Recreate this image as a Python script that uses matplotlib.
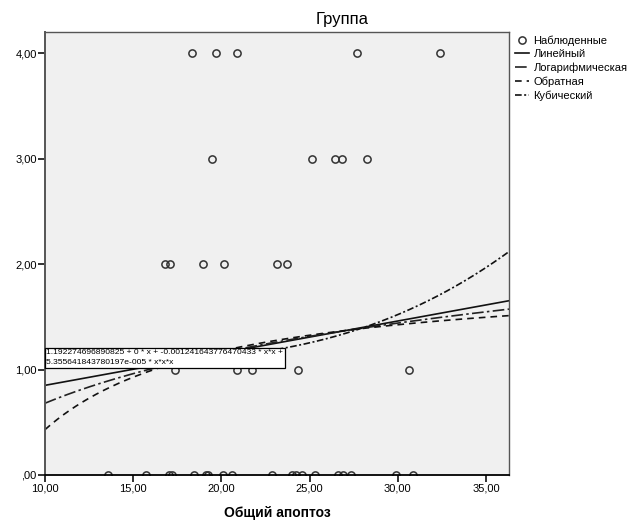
import matplotlib
matplotlib.use("Agg")
import matplotlib.pyplot as plt
import numpy as np

plt.rcParams['font.family'] = ['Liberation Sans', 'DejaVu Sans']

# observed points (Общий апоптоз, Группа)
x0 = [13.57, 15.72, 17.05, 17.2, 18.43, 19.1, 19.25, 20.07, 20.58, 22.85,
      23.98, 24.2, 24.54, 25.28, 26.58, 26.87, 27.37, 29.92, 30.88]
x1 = [17.36, 20.87, 21.72, 24.32, 30.66]
x2 = [16.79, 17.07, 18.94, 20.13, 23.13, 23.70]
x3 = [19.45, 25.11, 26.41, 26.81, 28.28]
x4 = [18.32, 19.68, 20.87, 27.66, 32.41]
groups = [0, 1, 2, 3, 4]

# model coefficients
lin_b = [0.545, 0.0305]
log_b = [-0.913, 0.692]
inv_b = [1.922, -14.92]
cub_b = [1.192274696890825, 0.0, -0.001241643776470433, 5.355641843780197e-05]
eq_text = ("1.192274696890825 + 0 * x + -0.001241643776470433 * x*x +\n"
           "5.355641843780197e-005 * x*x*x")

xticks = [10, 15, 20, 25, 30, 35]
xtick_labels = ["10,00", "15,00", "20,00", "25,00", "30,00", "35,00"]
yticks = [0, 1, 2, 3, 4]
ytick_labels = [",00", "1,00", "2,00", "3,00", "4,00"]

fig = plt.figure(figsize=(6.4, 5.23), dpi=100)
ax = fig.add_axes([0.0703, 0.0918, 0.7250, 0.8470])
ax.set_facecolor('#f0f0f0')

xs_all = [x0, x1, x2, x3, x4]
px, py = [], []
for g, xs in zip(groups, xs_all):
    px += xs
    py += [g] * len(xs)
ax.plot(px, py, 'o', ms=5.2, mfc='none', mec='#333333', mew=1.1,
        label='Наблюденные', zorder=3)

xx = np.linspace(10, 36.3, 300)
ax.plot(xx, lin_b[0] + lin_b[1] * xx, color='#111111', lw=1.2, label='Линейный')
ax.plot(xx, log_b[0] + log_b[1] * np.log(xx), color='#222222', lw=1.2,
        dashes=(7, 2, 1.5, 2), label='Логарифмическая')
ax.plot(xx, inv_b[0] + inv_b[1] / xx, color='#111111', lw=1.2,
        dashes=(4, 3), label='Обратная')
ax.plot(xx, cub_b[0] + cub_b[1] * xx + cub_b[2] * xx**2 + cub_b[3] * xx**3,
        color='#111111', lw=1.2, dashes=(4, 1.5, 1.2, 1.5), label='Кубический')

ax.text(10.08, 1.113, eq_text, fontsize=6.1, ha='left', va='center',
        linespacing=1.5, zorder=5,
        bbox=dict(boxstyle='square,pad=0.2', fc='white', ec='black', lw=0.9))

ax.set_xlim(10, 36.3)
ax.set_ylim(0, 4.2)
ax.set_xticks(xticks)
ax.set_xticklabels(xtick_labels, fontsize=8)
ax.set_yticks(yticks)
ax.set_yticklabels(ytick_labels, fontsize=8)
ax.tick_params(direction='out', length=5, width=1.3, pad=1, color='#222222')

for side in ['left', 'top', 'right']:
    ax.spines[side].set_color('#555555')
    ax.spines[side].set_linewidth(1.0)
ax.spines['left'].set_linewidth(1.4)
ax.spines['bottom'].set_color('black')
ax.spines['bottom'].set_linewidth(1.3)
ax.spines['bottom'].set_zorder(4)

ax.set_xlabel('Общий апоптоз', fontsize=10, fontweight='bold', labelpad=9)
fig.text(0.535, 0.963, 'Группа', fontsize=12, ha='center', va='center')

ax.legend(loc='upper left', bbox_to_anchor=(1.0, 1.005), frameon=False,
          fontsize=8, handlelength=1.3, handletextpad=0.4, labelspacing=0.3,
          borderaxespad=0.3, borderpad=0.2)

fig.savefig('out.png', dpi=100)
